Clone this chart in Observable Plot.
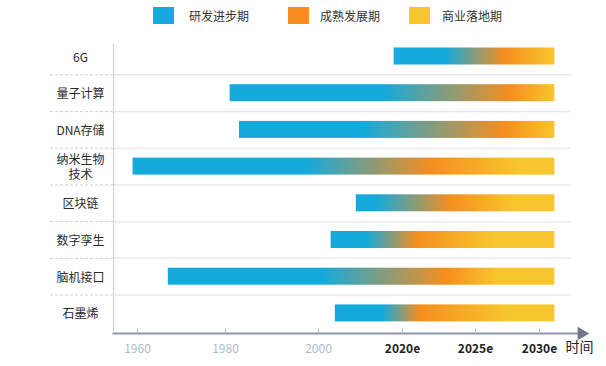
<!DOCTYPE html>
<html><head><meta charset="utf-8">
<script src="https://cdn.jsdelivr.net/npm/d3@7"></script>
<script src="https://cdn.jsdelivr.net/npm/@observablehq/plot@0.6"></script>
<style>
body{margin:0;background:#fff;font-family:"Noto Sans CJK SC","Microsoft YaHei",sans-serif;}
#legend{position:relative;height:30px;width:606px;}
.sw{position:absolute;top:7px;width:21px;height:17px;}
.lt{position:absolute;top:7px;font-size:12px;line-height:17px;color:#333;white-space:nowrap;}
#chart svg{display:block;}
</style></head><body>
<div id="legend"></div>
<div id="chart"></div>
<script>
// ---- data ----
const categories = ["6G", "量子计算", "DNA存储", "纳米生物\n技术", "区块链", "数字孪生", "脑机接口", "石墨烯"];
const startYear  = [2018, 1981, 1983, 1959, 2009, 2003, 1967, 2004];
const endYear    = [2031.2, 2031.2, 2031.2, 2031.2, 2031.2, 2031.2, 2031.2, 2031.2];
const blueEnd    = [2023, 2015.5, 2010.5, 1997.5, 2014, 2011.5, 2001, 2015.5];
const orangePeak = [2027.3, 2027.7, 2027.3, 2022, 2023.3, 2021, 2023, 2021.2];
const yellowFull = [2031.2, 2031.2, 2031.2, 2028.3, 2028, 2026.4, 2026.7, 2027.5];
const tickYears  = [1960, 1980, 2000, 2020, 2025, 2030];
const tickLabels = ["1960", "1980", "2000", "2020e", "2025e", "2030e"];
const phaseNames = ["研发进步期", "成熟发展期", "商业落地期"];
const phaseColors = ["#15aadb", "#f58e1f", "#f8c52c"];

// ---- legend (HTML above the svg) ----
const legendPos = [[153, 189], [288, 320], [409, 442]];
const legend = document.getElementById("legend");
phaseNames.forEach((n, i) => {
  const s = document.createElement("div");
  s.className = "sw"; s.style.left = legendPos[i][0] + "px"; s.style.background = phaseColors[i];
  const t = document.createElement("div");
  t.className = "lt"; t.style.left = legendPos[i][1] + "px"; t.textContent = n;
  legend.appendChild(s); legend.appendChild(t);
});

// ---- chart ----
const rows = categories.map((c, i) => ({cat: c, start: startYear[i], end: endYear[i]}));
const H = 336, mt = 7.65, mb = 34.75;
const step = (H - mt - mb) / categories.length;
const half = step / 2;
const barInset = (step - 17) / 2;
const tickFmt = d => tickLabels[tickYears.indexOf(d)];

const chart = Plot.plot({
  width: 606, height: H,
  marginTop: mt, marginBottom: mb, marginLeft: 113, marginRight: 21,
  style: {fontFamily: '"Noto Sans CJK SC", sans-serif', fontSize: "12px", color: "#333", background: "#fff"},
  x: {type: "linear", domain: tickYears, range: [137, 225, 318, 402, 475, 539], axis: null, label: null},
  y: {domain: categories, padding: 0, round: false, axis: null, label: null},
  marks: [
    Plot.gridY(categories.slice(1), {dy: -half, stroke: "#e8e9f1", strokeOpacity: 1, strokeWidth: 1.5, insetRight: 14}),
    Plot.axisY(categories.slice(1), {tickSize: 63, text: null, dy: -half, stroke: "#cfcfd4", strokeDasharray: "3,2", label: null}),
    Plot.text(categories, {y: d => d, text: d => d, frameAnchor: "left", dx: -33, textAnchor: "middle", fill: "#2b2b2b", fontSize: 12, lineHeight: 1.3}),
    Plot.frame({anchor: "left", stroke: "#c4c4cc", strokeDasharray: "2,2", insetTop: 6}),
    Plot.barX(rows, {y: "cat", x1: "start", x2: "end", fill: phaseColors[0], insetTop: barInset, insetBottom: barInset}),
    Plot.frame({anchor: "bottom", stroke: "#8e97a8", strokeWidth: 2, dy: 1.75, insetRight: 6}),
    Plot.dot([0], {frameAnchor: "bottom-right", symbol: "triangle", rotate: 90, r: 5, fill: "#6f7789", stroke: null, dx: -4, dy: 1.75}),
    Plot.axisX(tickYears, {tickSize: -4, text: null, stroke: "#a9bde0", dy: 1.75, label: null}),
    Plot.axisX(tickYears.slice(0, 3), {tickSize: 0, tickPadding: 13, fill: "#adb9cb", fontSize: 12, tickFormat: tickFmt, label: null}),
    Plot.axisX(tickYears.slice(3), {tickSize: 0, tickPadding: 13, fill: "#222", fontSize: 12, fontWeight: 600, tickFormat: tickFmt, label: null}),
    Plot.text(["时间"], {text: d => d, frameAnchor: "bottom-right", dx: 8, dy: 20, textAnchor: "end", fontSize: 14, fill: "#222"})
  ]
});
document.getElementById("chart").appendChild(chart);

// ---- per-bar phase gradients, positioned with the chart's own x scale ----
const xs = chart.scale("x");
const svg = d3.select(chart);
const defs = svg.insert("defs", ":first-child");
rows.forEach((r, i) => {
  const x0 = xs.apply(r.start), x1 = xs.apply(r.end);
  const off = v => Math.max(0, Math.min(1, (xs.apply(v) - x0) / (x1 - x0)));
  const g = defs.append("linearGradient").attr("id", "phase" + i)
    .attr("gradientUnits", "userSpaceOnUse").attr("x1", x0).attr("x2", x1).attr("y1", 0).attr("y2", 0);
  [[0, phaseColors[0]], [off(blueEnd[i]), phaseColors[0]], [off(orangePeak[i]), phaseColors[1]],
   [off(yellowFull[i]), phaseColors[2]], [1, phaseColors[2]]]
    .forEach(([o, c]) => g.append("stop").attr("offset", o).attr("stop-color", c));
});
svg.selectAll('g[aria-label="bar"] rect').attr("fill", (d, i) => `url(#phase${i})`);
</script>
</body></html>
